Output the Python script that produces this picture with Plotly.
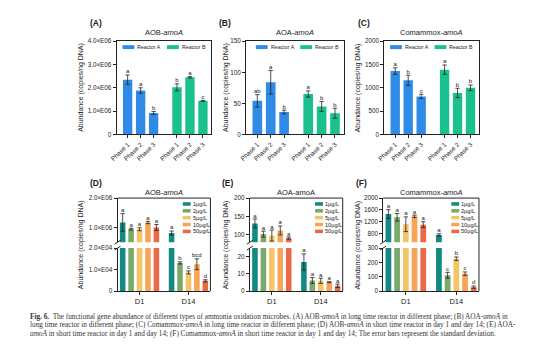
import plotly.graph_objects as go

# ---------------- data ----------------
phases = ["Phase 1", "Phase 2", "Phase 3"]
reactors = ["Reactor A", "Reactor B"]

aob_long_A = [2.35e6, 1.88e6, 0.92e6]
aob_long_A_err = [0.20e6, 0.12e6, 0.06e6]
aob_long_A_let = ["a", "a", "b"]
aob_long_B = [2.02e6, 2.45e6, 1.44e6]
aob_long_B_err = [0.15e6, 0.03e6, 0.02e6]
aob_long_B_let = ["b", "a", "c"]

aoa_long_A = [54, 84, 36]
aoa_long_A_err = [10, 19, 3]
aoa_long_A_let = ["ab", "a", "b"]
aoa_long_B = [65, 45, 34]
aoa_long_B_err = [5, 8, 8]
aoa_long_B_let = ["a", "b", "b"]

com_long_A = [1360, 1160, 815]
com_long_A_err = [70, 110, 45]
com_long_A_let = ["a", "b", "c"]
com_long_B = [1390, 890, 1000]
com_long_B_err = [100, 100, 60]
com_long_B_let = ["a", "b", "b"]

doses = ["1µg/L", "2µg/L", "5µg/L", "10µg/L", "50µg/L"]
days = ["D1", "D14"]

aob_short_D1 = [1.17e6, 0.94e6, 0.94e6, 1.17e6, 1.00e6]
aob_short_D1_err = [0.30e6, 0.03e6, 0.05e6, 0.04e6, 0.10e6]
aob_short_D14 = [0.81e6, 1.31e4, 0.87e4, 1.25e4, 0.48e4]
aob_short_D14_err = [0.07e6, 0.05e4, 0.07e4, 0.25e4, 0.05e4]
aob_short_D1_let = ["a", "a", "a", "a", "a"]
aob_short_D14_let = ["a", "b", "c", "bcd", "d"]

aoa_short_D1 = [131, 102, 98, 112, 91]
aoa_short_D1_err = [12, 8, 15, 12, 3]
aoa_short_D14 = [16.9, 6.2, 6.0, 5.2, 3.1]
aoa_short_D14_err = [4.7, 1.7, 1.5, 0.3, 1.0]
aoa_short_D1_let = ["a", "a", "a", "a", "a"]
aoa_short_D14_let = ["a", "a", "a", "a", "a"]

com_short_D1 = [1455, 1345, 1110, 1378, 1095]
com_short_D1_err = [150, 130, 250, 40, 100]
com_short_D14 = [745, 111, 226, 122, 28]
com_short_D14_err = [40, 20, 12, 12, 8]
com_short_D1_let = ["a", "a", "a", "a", "a"]
com_short_D14_let = ["a", "c", "b", "c", "d"]

# ---------------- styling ----------------
W, H = 554, 353
def px(x): return x / W
def py(y): return 1 - y / H

FONT = "Liberation Sans, Arial, sans-serif"
INK = "#222222"
reactor_colors = ["#2f8be6", "#1ac18e"]
dose_colors = ["#138a80", "#7ba86b", "#f5c564", "#f8a456", "#ea6a48"]
ERR = dict(type="data", color=INK, thickness=0.8, width=2.2)

fig = go.Figure()
annotations = []
shapes = []

def axis_common(**kw):
    d = dict(showline=True, linecolor=INK, linewidth=1, ticks="outside",
             ticklen=3, tickwidth=1, tickcolor=INK, showgrid=False,
             zeroline=False, tickfont=dict(size=6.3, color=INK, family=FONT))
    d.update(kw)
    return d

def note(x, y, text, size, xanchor="center", angle=0, family=FONT, color=INK):
    annotations.append(dict(x=px(x), y=py(y), xref="paper", yref="paper",
                            xanchor=xanchor, yanchor="middle", text=text,
                            textangle=angle, showarrow=False, borderpad=0,
                            font=dict(size=size, color=color, family=family)))

# ---------------- top row ----------------
top_panels = [
    ("x", "y", (111, 207), 75, "(A)", "AOB-<i>amoA</i>",
     [0, 1e6, 2e6, 3e6, 4e6], ["0", "1.0×E06", "2.0×E06", "3.0×E06", "4.0×E06"], 4e6,
     (aob_long_A, aob_long_A_err, aob_long_A_let), (aob_long_B, aob_long_B_err, aob_long_B_let)),
    ("x2", "y2", (242, 341), 222, "(B)", "AOA-<i>amoA</i>",
     [0, 50, 100, 150], ["0", "50", "100", "150"], 150,
     (aoa_long_A, aoa_long_A_err, aoa_long_A_let), (aoa_long_B, aoa_long_B_err, aoa_long_B_let)),
    ("x3", "y3", (382, 478), 355, "(C)", "Comammox-<i>amoA</i>",
     [0, 500, 1000, 1500, 2000], ["0", "500", "1000", "1500", "2000"], 2000,
     (com_long_A, com_long_A_err, com_long_A_let), (com_long_B, com_long_B_err, com_long_B_let)),
]
top_y = (38, 133)
group_pos = [[1, 2, 3], [4.8, 5.8, 6.8]]

for xa, ya, (x0, x1), tx, lab, title, tv, tt, ymax, sA, sB in top_panels:
    for gi, (vals, errs, lets) in enumerate([sA, sB]):
        fig.add_trace(go.Bar(x=group_pos[gi], y=vals, width=0.72,
                             marker=dict(color=reactor_colors[gi], line=dict(width=0)),
                             error_y=dict(array=errs, **ERR),
                             xaxis=xa, yaxis=ya, showlegend=False))
        fig.add_trace(go.Scatter(x=group_pos[gi], y=[v + e for v, e in zip(vals, errs)],
                                 text=lets, mode="text", textposition="top center",
                                 textfont=dict(size=6, color=INK, family=FONT),
                                 cliponaxis=False, xaxis=xa, yaxis=ya, showlegend=False))
    xk = "xaxis" + xa[1:]
    yk = "yaxis" + ya[1:]
    fig.layout[xk] = axis_common(domain=[px(x0), px(x1)], anchor=ya, range=[0.15, 7.45],
                                 tickvals=group_pos[0] + group_pos[1], ticktext=phases * 2,
                                 tickangle=-45, mirror=True)
    fig.layout[yk] = axis_common(domain=[py(top_y[1]), py(top_y[0])], anchor=xa,
                                 range=[0, ymax], tickvals=tv, ticktext=tt, mirror=True)
    note((x0 + x1) / 2, 29, title, 7.5)
    note(x0 - 28, 19, "<b>" + lab + "</b>", 8.5, xanchor="left")
    note(tx, (top_y[0] + top_y[1]) / 2, "Abundance (copies/ng DNA)", 7, angle=-90)
    # legend
    lx = [x0 + 6, x0 + 51] if x1 - x0 < 98 else [x0 + 10, x0 + 55]
    for gi in range(2):
        shapes.append(dict(type="rect", xref="paper", yref="paper",
                           x0=px(lx[gi]), x1=px(lx[gi] + 12), y0=py(46), y1=py(42),
                           fillcolor=reactor_colors[gi], line=dict(width=0)))
        note(lx[gi] + 14, 44, reactors[gi], 5.3, xanchor="left")

# ---------------- bottom row ----------------
bot_panels = [
    ("x4", "y4", "y5", (112, 206), 75, "(D)", "AOB-<i>amoA</i>",
     ([0, 1e4, 2e4], ["0", "1.0×E04", "2.0×E04"], [0, 2e4]),
     ([1e6, 2e6], ["1.0×E06", "2.0×E06"], [0.5e6, 2e6]),
     (aob_short_D1, aob_short_D1_err, aob_short_D1_let),
     (aob_short_D14, aob_short_D14_err, aob_short_D14_let)),
    ("x5", "y6", "y7", (246, 340), 222, "(E)", "AOA-amoA",
     ([0, 10, 20], ["0", "10", "20"], [0, 25]),
     ([100, 150, 200], ["100", "150", "200"], [80, 200]),
     (aoa_short_D1, aoa_short_D1_err, aoa_short_D1_let),
     (aoa_short_D14, aoa_short_D14_err, aoa_short_D14_let)),
    ("x6", "y8", "y9", (381, 478), 356, "(F)", "Comammox-<i>amoA</i>",
     ([0, 100, 200, 300], ["0", "100", "200", "300"], [0, 300]),
     ([800, 1200, 1600, 2000], ["800", "1200", "1600", "2000"], [500, 2000]),
     (com_short_D1, com_short_D1_err, com_short_D1_let),
     (com_short_D14, com_short_D14_err, com_short_D14_let)),
]
low_y = (249, 293)
up_y = (198, 243)
day_offset = [0, 5.8]

for xa, yl, yu, (x0, x1), tx, lab, title, low, up, sD1, sD14 in bot_panels:
    for di in range(len(doses)):
        xs = [di + day_offset[0], di + day_offset[1]]
        vals = [sD1[0][di], sD14[0][di]]
        errs = [sD1[1][di], sD14[1][di]]
        lets = [sD1[2][di], sD14[2][di]]
        for ya in (yl, yu):
            fig.add_trace(go.Bar(x=xs, y=vals, width=0.66,
                                 marker=dict(color=dose_colors[di], line=dict(width=0)),
                                 error_y=dict(array=errs, **ERR),
                                 xaxis=xa, yaxis=ya, showlegend=False))
        for k in range(2):
            ya = yu if vals[k] >= up[2][0] else yl
            fig.add_trace(go.Scatter(x=[xs[k]], y=[vals[k] + errs[k]], text=[lets[k]],
                                     mode="text", textposition="top center",
                                     textfont=dict(size=6, color=INK, family=FONT),
                                     cliponaxis=False, xaxis=xa, yaxis=ya, showlegend=False))
    xk = "xaxis" + xa[1:]
    fig.layout[xk] = axis_common(domain=[px(x0), px(x1)], anchor=yl, range=[-0.6, 10.4],
                                 tickvals=[2, 2 + day_offset[1]], ticktext=days,
                                 tickfont=dict(size=7.5, color=INK, family=FONT))
    fig.layout["yaxis" + yl[1:]] = axis_common(domain=[py(low_y[1]), py(low_y[0])], anchor=xa,
                                               range=low[2], tickvals=low[0], ticktext=low[1])
    fig.layout["yaxis" + yu[1:]] = axis_common(domain=[py(up_y[1]), py(up_y[0])], anchor=xa,
                                               range=up[2], tickvals=up[0], ticktext=up[1])
    # frame top & right
    shapes.append(dict(type="line", xref="paper", yref="paper", x0=px(x0), x1=px(x1),
                       y0=py(up_y[0]), y1=py(up_y[0]), line=dict(color=INK, width=1)))
    shapes.append(dict(type="line", xref="paper", yref="paper", x0=px(x1), x1=px(x1),
                       y0=py(up_y[0]), y1=py(low_y[1]), line=dict(color=INK, width=1)))
    # break marks
    for yy in (up_y[1], low_y[0]):
        shapes.append(dict(type="line", xref="paper", yref="paper",
                           x0=px(x0 - 3), x1=px(x0 + 3), y0=py(yy + 2), y1=py(yy - 2),
                           line=dict(color=INK, width=1)))
    note((x0 + x1) / 2, 192, title, 7.5)
    note(x0 - 29, 183, "<b>" + lab + "</b>", 8.5, xanchor="left")
    note(tx, 246, "Abundance (copies/ng DNA)", 7, angle=-90)
    # legend
    lx = x1 - 28
    for di in range(len(doses)):
        yy = 204 + 7 * di
        shapes.append(dict(type="rect", xref="paper", yref="paper",
                           x0=px(lx), x1=px(lx + 8), y0=py(yy + 1.8), y1=py(yy - 1.8),
                           fillcolor=dose_colors[di], line=dict(width=0)))
        note(lx + 9, yy, doses[di], 5.6, xanchor="left")

# ---------------- caption ----------------
caption_lines = [
    "<b>Fig. 6.</b>  The functional gene abundance of different types of ammonia oxidation microbes. (A) AOB-<i>amoA</i> in long time reactor in different phase; (B) AOA-<i>amoA</i> in",
    "long time reactor in different phase; (C) Comammox-<i>amoA</i> in long time reactor in different phase; (D) AOB-<i>amoA</i> in short time reactor in day 1 and day 14; (E) AOA-",
    "<i>amoA</i> in short time reactor in day 1 and day 14; (F) Comammox-<i>amoA</i> in short time reactor in day 1 and day 14; The error bars represent the standard deviation.",
]
for i, line in enumerate(caption_lines):
    note(22, 319 + 9 * i, line, 7.25, xanchor="left",
         family="Liberation Serif, serif", color="#333333")

fig.update_layout(width=W, height=H, autosize=False,
                  margin=dict(l=0, r=0, t=0, b=0, pad=0),
                  paper_bgcolor="white", plot_bgcolor="white",
                  barmode="overlay", showlegend=False,
                  font=dict(family=FONT, color=INK),
                  annotations=annotations, shapes=shapes)

fig.write_html("out.html")
